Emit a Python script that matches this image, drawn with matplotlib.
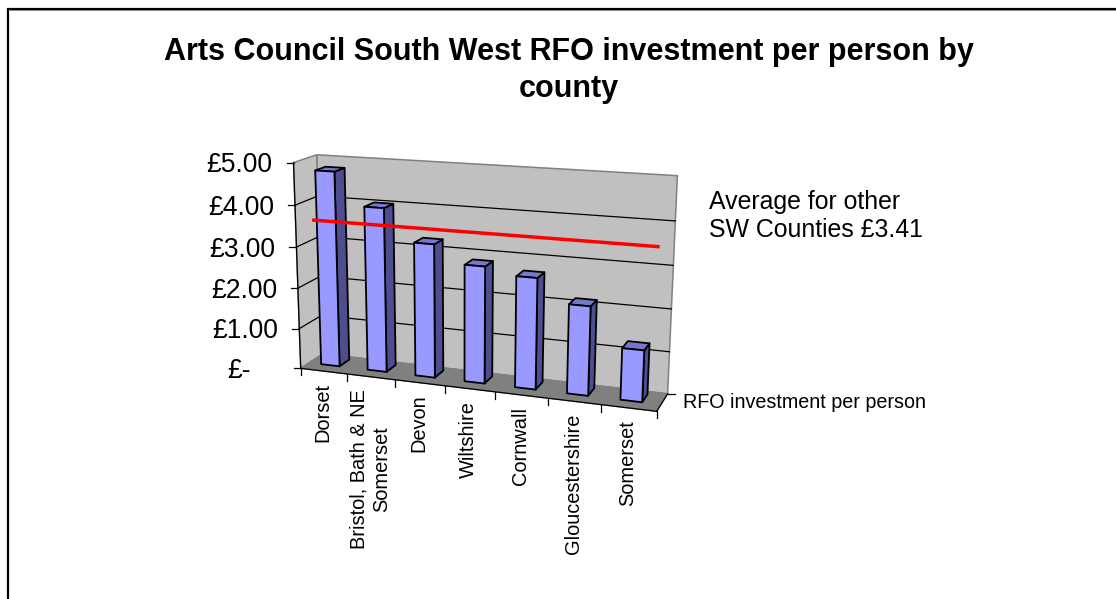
import numpy as np
import matplotlib
matplotlib.use("Agg")
import matplotlib.pyplot as plt
from matplotlib.patches import Polygon

plt.rcParams['font.family'] = ['Liberation Sans', 'DejaVu Sans']

# Chart data
counties = ["Dorset", "Bristol, Bath & NE\nSomerset", "Devon", "Wiltshire",
            "Cornwall", "Gloucestershire", "Somerset"]
investment = [4.76, 3.98, 3.22, 2.80, 2.64, 2.10, 1.21]
value_ticks = [0, 1, 2, 3, 4, 5]
value_labels = ["£-", "£1.00", "£2.00", "£3.00", "£4.00", "£5.00"]
other_counties_average = 3.41
series_name = "RFO investment per person"
title = "Arts Council South West RFO investment per person by\ncounty"
note = "Average for other\nSW Counties £3.41"

WIDTH, HEIGHT = 1116, 599

# Calibration of the 3D box: (category, value, depth) -> canvas position
anchors = [
    ((0, 0, 0), (301, 368)), ((0, 5, 0), (293, 162)),
    ((0, 0, 1), (322, 355)), ((0, 5, 1), (317, 155)),
    ((7, 0, 1), (668, 392)), ((7, 5, 1), (677.5, 176)),
    ((7, 0, 0), (657, 412)), ((1, 0, 0), (348, 374)),
    ((2, 0, 0), (395.5, 380)), ((3, 0, 0), (445, 386)),
    ((4, 0, 0), (495, 392)), ((5, 0, 0), (547, 398.5)),
    ((6, 0, 0), (601, 405)), ((0, 1, 0), (299.5, 328)),
    ((0, 2, 0), (298, 287)), ((0, 3, 0), (296.5, 247)),
    ((0, 4, 0), (295, 206)),
]


def fit_camera(pairs):
    rows, rhs = [], []
    for (a, b, c), (x, y) in pairs:
        rows.append([a, b, c, 1, 0, 0, 0, 0, -x * a, -x * b, -x * c])
        rhs.append(x)
        rows.append([0, 0, 0, 0, a, b, c, 1, -y * a, -y * b, -y * c])
        rhs.append(y)
    sol = np.linalg.lstsq(np.array(rows, float), np.array(rhs, float), rcond=None)[0]
    return np.append(sol, 1.0).reshape(3, 4)


CAMERA = fit_camera(anchors)


def project(u, v, w):
    px = CAMERA @ np.array([u, v, w, 1.0])
    return px[0] / px[2], px[1] / px[2]


def quad(ax, corners, face, edge="black", lw=1.3, z=2):
    ax.add_patch(Polygon([project(*c) for c in corners], closed=True,
                         facecolor=face, edgecolor=edge, linewidth=lw,
                         joinstyle="round", zorder=z))


fig = plt.figure(figsize=(WIDTH / 100, HEIGHT / 100), dpi=100)
ax = fig.add_axes([0, 0, 1, 1])
ax.set_xlim(0, WIDTH)
ax.set_ylim(HEIGHT, 0)
ax.axis("off")

# Chart area border, cut off on the right and at the bottom
ax.plot([8, 8, WIDTH], [HEIGHT, 8.5, 8.5], color="black", lw=1.6,
        solid_joinstyle="miter", zorder=1)
ax.plot([9.5, WIDTH], [10, 10], color="#777777", lw=0.6, zorder=1)

top = max(value_ticks)
n = len(counties)

# Walls and floor
quad(ax, [(0, 0, 1), (n, 0, 1), (n, top, 1), (0, top, 1)], "#C0C0C0", "#808080", 1.1, 1)
quad(ax, [(0, 0, 0), (0, 0, 1), (0, top, 1), (0, top, 0)], "#C0C0C0", "#808080", 1.1, 1)
quad(ax, [(0, 0, 0), (n, 0, 0), (n, 0, 1), (0, 0, 1)], "#808080", "#808080", 1.0, 1)

# Gridlines on the walls
for t in value_ticks[1:-1]:
    pts = [project(0, t, 0), project(0, t, 1), project(n, t, 1)]
    ax.plot(*zip(*pts), color="black", lw=0.9, zorder=1.5)

# Axis lines and tick marks
ax.plot(*zip(project(0, 0, 0), project(0, top, 0)), color="black", lw=0.9, zorder=3)
ax.plot(*zip(project(0, 0, 0), project(n, 0, 0)), color="black", lw=0.9, zorder=3)
ax.plot(*zip(project(n, 0, 0), project(n, 0, 1)), color="black", lw=0.9, zorder=3)
for t, lab in zip(value_ticks, value_labels):
    x, y = project(0, t, 0)
    ax.plot([x - 7, x], [y, y], color="black", lw=0.9, zorder=3)
    # The zero label sits further in, as accounting formats pad it with spaces
    gap = 50 if t == 0 else 21
    ax.text(x - gap, y + 2.5, lab, ha="right", va="center", fontsize=19.1)
for i in range(n + 1):
    x, y = project(i, 0, 0)
    ax.plot([x, x], [y, y + 7], color="black", lw=0.9, zorder=3)
x, y = project(n, 0, 1)
ax.plot([x, x + 7], [y, y], color="black", lw=0.9, zorder=3)

# Bars, drawn left to right with side, top and front faces
half, front, back, nudge = 0.20, 0.38, 0.84, -0.04
for i, val in enumerate(investment):
    c = i + 0.5 + nudge
    l, r = c - half, c + half
    z = 2 + 0.01 * i
    quad(ax, [(r, 0, front), (r, 0, back), (r, val, back), (r, val, front)], "#4D4D8F", z=z)
    quad(ax, [(l, val, front), (r, val, front), (r, val, back), (l, val, back)], "#7777CC", z=z)
    quad(ax, [(l, 0, front), (r, 0, front), (r, val, front), (l, val, front)], "#9999FF", z=z)

# Average reference line
ax.plot(*zip(project(-0.12, other_counties_average, 0.95),
             project(6.75, other_counties_average, 0.95)),
        color="#FF0000", lw=2.5, solid_capstyle="butt", zorder=5)

# Category labels hang below the front floor edge, following its slope
for i, name in enumerate(counties):
    cx, cy = project(i + 0.5, 0, 0)
    ax.text(cx - 1, cy + 12, name, rotation=90, ha="center", va="top", fontsize=14.4,
            linespacing=1.25, multialignment="center")

ax.text(683, 402, series_name, ha="left", va="center", fontsize=14.2)
ax.text(709, 216, note, ha="left", va="center", fontsize=17.9, linespacing=1.2)
ax.text(569, 70.5, title, ha="center", va="center", fontsize=22, fontweight="bold",
        linespacing=1.32)

fig.savefig("out.png", dpi=100)
